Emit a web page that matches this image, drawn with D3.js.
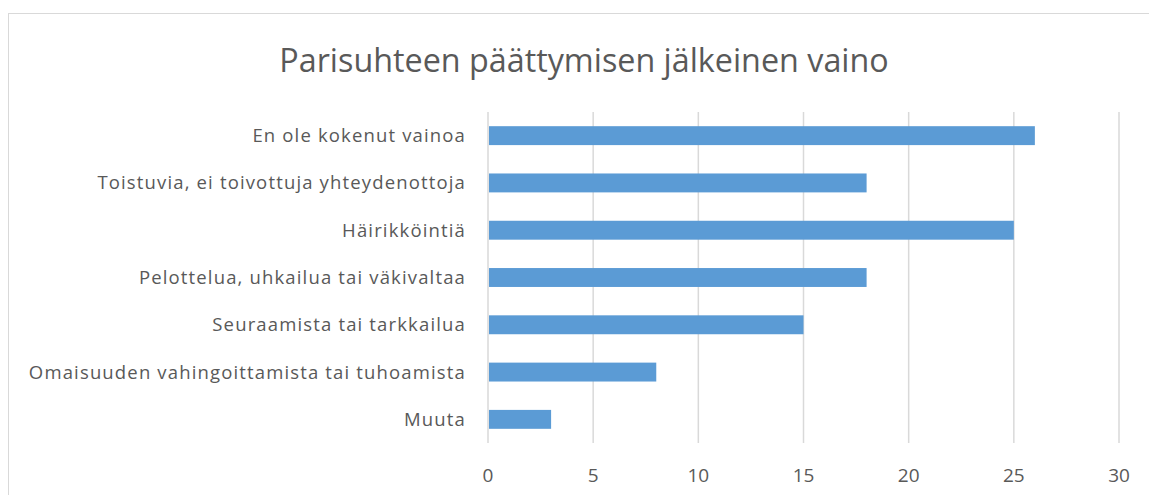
<!DOCTYPE html>
<html>
<head>
<meta charset="utf-8">
<script src="https://cdn.jsdelivr.net/npm/d3@7"></script>
<style>
  body { margin: 0; background: #fff; }
  text { font-family: "Open Sans", "Noto Sans", sans-serif; fill: #595959; }
</style>
</head>
<body>
<div id="chart"></div>
<script>
var categories = [
  "En ole kokenut vainoa",
  "Toistuvia, ei toivottuja yhteydenottoja",
  "Häirikköintiä",
  "Pelottelua, uhkailua tai väkivaltaa",
  "Seuraamista tai tarkkailua",
  "Omaisuuden vahingoittamista tai tuhoamista",
  "Muuta"
];
var values = [26, 18, 25, 18, 15, 8, 3];
var xTicks = [0, 5, 10, 15, 20, 25, 30];
var title = "Parisuhteen päättymisen jälkeinen vaino";

var width = 1149, height = 495;
var plotLeft = 488, plotRight = 1119, plotTop = 112, plotBottom = 443;

var svg = d3.select("#chart").append("svg")
    .attr("width", width).attr("height", height);

// chart area border
svg.append("rect")
    .attr("x", 8.5).attr("y", 13.5)
    .attr("width", 1160).attr("height", 500)
    .attr("fill", "none").attr("stroke", "#d9d9d9").attr("stroke-width", 1);

var x = d3.scaleLinear().domain([0, 30]).range([plotLeft, plotRight]);
var y = d3.scaleBand().domain(categories).range([plotTop, plotBottom]).paddingInner(0.6).paddingOuter(0.3);

// gridlines
svg.append("g").selectAll("line")
    .data(xTicks).enter().append("line")
    .attr("x1", function(d){ return x(d); })
    .attr("x2", function(d){ return x(d); })
    .attr("y1", plotTop).attr("y2", plotBottom)
    .attr("stroke", "#d9d9d9").attr("stroke-width", 1.5);

// bars
svg.append("g").selectAll("rect")
    .data(values).enter().append("rect")
    .attr("x", x(0) + 1)
    .attr("y", function(d, i){ return y(categories[i]); })
    .attr("width", function(d){ return x(d) - x(0) - 1; })
    .attr("height", y.bandwidth())
    .attr("fill", "#5b9bd5");

// category labels
svg.append("g").selectAll("text")
    .data(categories).enter().append("text")
    .attr("x", plotLeft - 22)
    .attr("y", function(d){ return y(d) + y.bandwidth() / 2; })
    .attr("dy", "0.35em")
    .attr("text-anchor", "end")
    .style("font-size", "18.5px")
    .style("letter-spacing", "1.15px")
    .text(function(d){ return d; });

// x tick labels
svg.append("g").selectAll("text")
    .data(xTicks).enter().append("text")
    .attr("x", function(d){ return x(d); })
    .attr("y", 482)
    .attr("text-anchor", "middle")
    .style("font-size", "19px")
    .text(function(d){ return d; });

// title
svg.append("text")
    .attr("x", 584).attr("y", 72)
    .attr("text-anchor", "middle")
    .style("font-size", "32.3px")
    .text(title);
</script>
</body>
</html>
